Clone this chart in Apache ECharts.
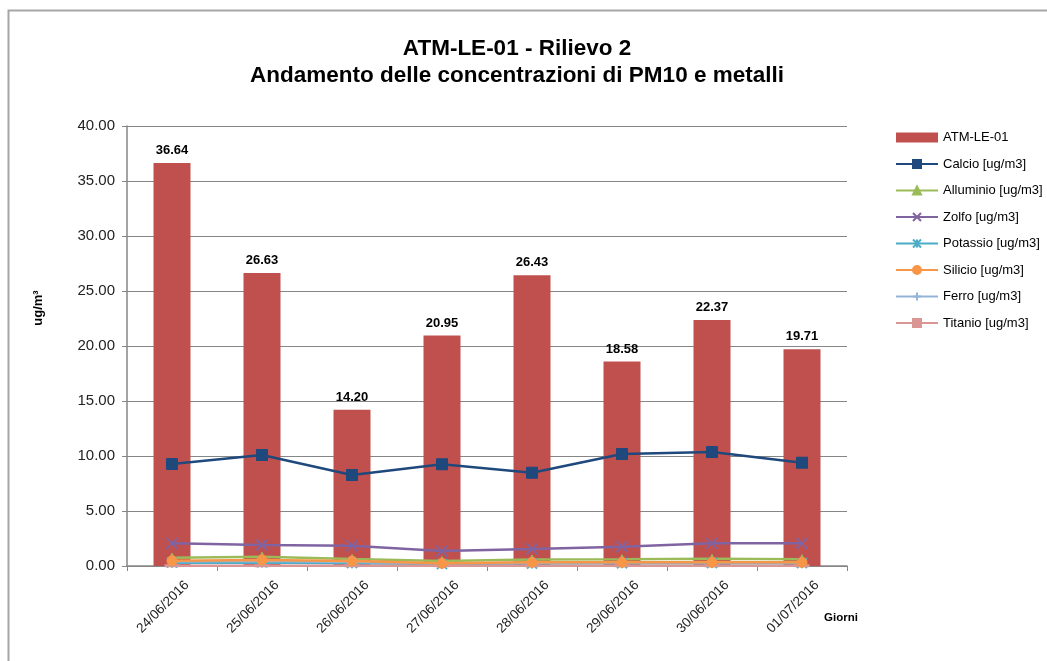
<!DOCTYPE html>
<html>
<head>
<meta charset="utf-8">
<script src="https://cdn.jsdelivr.net/npm/echarts@6/dist/echarts.min.js"></script>
<style>
  html, body { margin: 0; padding: 0; background: #ffffff; }
  #chart { width: 1047px; height: 661px; }
</style>
</head>
<body>
<div id="chart"></div>
<script>
// Sampling days
const giorni = ['24/06/2016', '25/06/2016', '26/06/2016', '27/06/2016', '28/06/2016', '29/06/2016', '30/06/2016', '01/07/2016'];

// PM10 concentration (bars)
const pm10 = [36.64, 26.63, 14.20, 20.95, 26.43, 18.58, 22.37, 19.71];

// Metals [ug/m3]
const calcio = [9.27, 10.09, 8.27, 9.25, 8.48, 10.18, 10.36, 9.39];
const alluminio = [0.76, 0.85, 0.64, 0.45, 0.60, 0.62, 0.65, 0.62];
const zolfo = [2.06, 1.91, 1.85, 1.36, 1.55, 1.76, 2.06, 2.06];
const potassio = [0.30, 0.32, 0.26, 0.18, 0.22, 0.25, 0.27, 0.26];
const silicio = [0.48, 0.55, 0.45, 0.24, 0.33, 0.33, 0.33, 0.33];
const ferro = [0.40, 0.45, 0.36, 0.22, 0.30, 0.31, 0.32, 0.31];
const titanio = [0.03, 0.03, 0.02, 0.02, 0.02, 0.02, 0.02, 0.02];

const yTicks = { min: 0, max: 40, interval: 5 };

const FONT = '"Liberation Sans", Arial, sans-serif';
const AXIS_GREY = '#868686';

const chart = echarts.init(document.getElementById('chart'), null, { renderer: 'canvas' });

function metalLine(name, data, color, symbol, size, extra) {
  return Object.assign({
    name: name,
    type: 'line',
    data: data,
    symbol: symbol,
    symbolSize: size,
    z: 3,
    lineStyle: { color: color, width: 2.5 },
    itemStyle: { color: color, borderColor: color, borderWidth: 1 },
    emphasis: { disabled: true }
  }, extra || {});
}

const strokeMarker = (color) => ({ color: 'rgba(0,0,0,0)', borderColor: color, borderWidth: 1.8 });

const option = {
  backgroundColor: '#ffffff',
  animation: false,
  textStyle: { fontFamily: FONT },
  title: {
    text: 'ATM-LE-01 - Rilievo 2\nAndamento delle concentrazioni di PM10 e metalli',
    left: 512,
    textAlign: 'center',
    top: 30,
    textStyle: { fontFamily: FONT, fontSize: 22.5, fontWeight: 'bold', color: '#000', lineHeight: 27 }
  },
  legend: {
    orient: 'vertical',
    left: 890,
    top: 126,
    itemGap: 13.5,
    itemWidth: 42,
    itemHeight: 10,
    textStyle: { fontFamily: FONT, fontSize: 13, color: '#000' },
    data: [
      { name: 'ATM-LE-01', icon: 'rect' },
      'Calcio [ug/m3]', 'Alluminio [ug/m3]', 'Zolfo [ug/m3]', 'Potassio [ug/m3]',
      'Silicio [ug/m3]', 'Ferro [ug/m3]', 'Titanio [ug/m3]'
    ]
  },
  grid: { left: 127, right: 200, top: 126, bottom: 95 },
  xAxis: {
    type: 'category',
    data: giorni,
    boundaryGap: true,
    axisLine: { lineStyle: { color: AXIS_GREY, width: 1.5 } },
    axisTick: { show: true, length: 5, lineStyle: { color: AXIS_GREY } },
    axisLabel: {
      rotate: 45, fontSize: 13.5, color: '#222', margin: 22, fontFamily: FONT,
      verticalAlign: 'top', padding: [0, -14, 0, 0]
    }
  },
  yAxis: {
    type: 'value',
    min: yTicks.min,
    max: yTicks.max,
    interval: yTicks.interval,
    name: 'ug/m³',
    nameLocation: 'middle',
    nameRotate: 90,
    nameGap: 82,
    nameTextStyle: { fontSize: 13, fontWeight: 'bold', color: '#000', fontFamily: FONT, padding: [0, 0, 0, 76] },
    axisLine: { show: true, lineStyle: { color: AXIS_GREY, width: 1.5 } },
    axisTick: { show: true, length: 5, lineStyle: { color: AXIS_GREY } },
    axisLabel: { fontSize: 15, color: '#222', margin: 12, formatter: (v) => v.toFixed(2), fontFamily: FONT },
    splitLine: { show: true, lineStyle: { color: AXIS_GREY, width: 1 } }
  },
  graphic: [
    {
      type: 'rect',
      shape: { x: 8.5, y: 10.5, width: 1200, height: 800 },
      style: { fill: 'none', stroke: '#A6A6A6', lineWidth: 2 },
      silent: true, z: -1
    },
    {
      type: 'text',
      x: 824,
      y: 612,
      style: { text: 'Giorni', font: 'bold 11.5px ' + FONT, fill: '#000' }
    }
  ],
  series: [
    {
      name: 'ATM-LE-01',
      type: 'bar',
      data: pm10,
      barWidth: 37,
      z: 2,
      itemStyle: { color: '#C0504D' },
      emphasis: { disabled: true },
      label: {
        show: true,
        position: 'top',
        distance: 6,
        formatter: (p) => p.value.toFixed(2),
        fontSize: 13,
        fontWeight: 'bold',
        color: '#000',
        fontFamily: FONT
      }
    },
    metalLine('Calcio [ug/m3]', calcio, '#1F497D', 'rect', 11),
    metalLine('Alluminio [ug/m3]', alluminio, '#9BBB59', 'triangle', 9),
    metalLine('Zolfo [ug/m3]', zolfo, '#8064A2', 'path://M0,0L10,10M10,0L0,10', 11,
      { itemStyle: strokeMarker('#8064A2') }),
    metalLine('Potassio [ug/m3]', potassio, '#4BACC6', 'path://M0,0L10,10M10,0L0,10M5,0L5,10', 10,
      { itemStyle: strokeMarker('#4BACC6') }),
    metalLine('Ferro [ug/m3]', ferro, '#95B3D7', 'path://M5,0L5,10M0,5L10,5', 10,
      { itemStyle: strokeMarker('#95B3D7') }),
    metalLine('Titanio [ug/m3]', titanio, '#D99694', 'rect', [10, 2]),
    metalLine('Silicio [ug/m3]', silicio, '#F79646', 'circle', 10, { z: 4 })
  ]
};

chart.setOption(option);
</script>
</body>
</html>
